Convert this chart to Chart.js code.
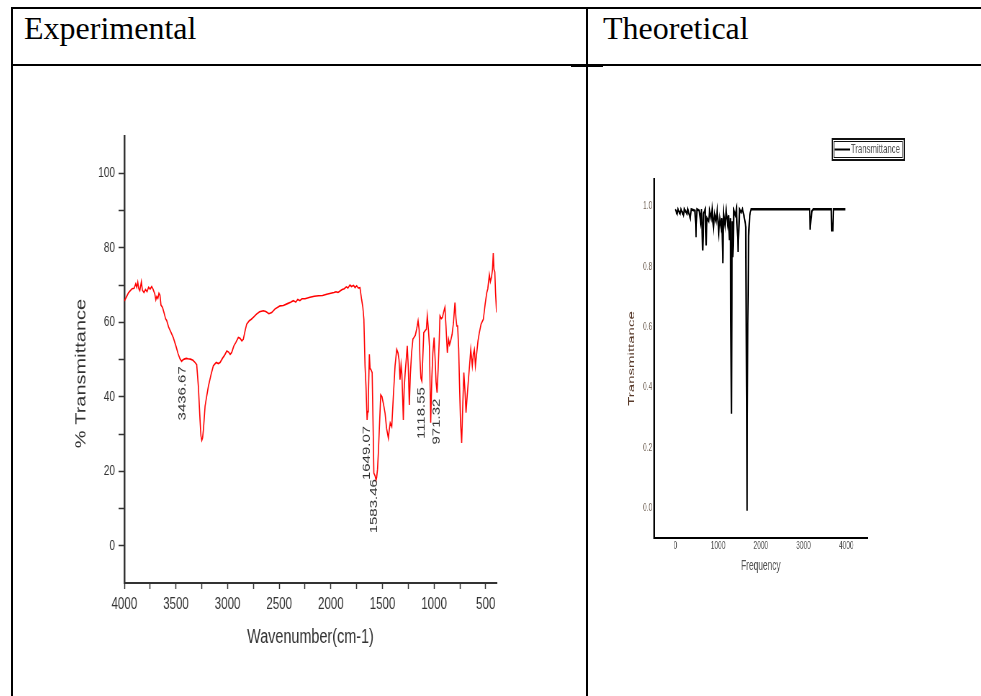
<!DOCTYPE html>
<html>
<head>
<meta charset="utf-8">
<title>FT-IR spectra</title>
<script src="https://cdn.jsdelivr.net/npm/chart.js@4.4.1/dist/chart.umd.min.js"></script>
<style>
  html, body { margin: 0; padding: 0; background: #fff; }
  body { width: 981px; height: 696px; position: relative; overflow: hidden; }
  .rule { position: absolute; background: #000; }
  .head { position: absolute; font-family: 'Liberation Serif', 'Times New Roman', serif; font-size: 32px; line-height: 30px; color: #000; }
  .plot { position: absolute; transform-origin: 0 0; }
  .plot canvas { display: block; }
</style>
</head>
<body>
<!-- table frame -->
<div class="rule" style="left:11px;top:7px;width:970px;height:2px"></div>
<div class="rule" style="left:11px;top:7px;width:2px;height:689px"></div>
<div class="rule" style="left:586px;top:7px;width:2px;height:689px"></div>
<div class="rule" style="left:11px;top:64px;width:970px;height:2px"></div>
<div class="rule" style="left:571px;top:64px;width:32px;height:3px"></div>

<div class="head" style="left:24px;top:13px">Experimental</div>
<div class="head" style="left:603px;top:13px">Theoretical</div>

<div class="plot" style="left:30px;top:110px;transform:scaleX(0.72)">
  <canvas id="expChart" width="694" height="580"></canvas>
</div>
<div class="plot" style="left:600px;top:120px;transform:scaleX(0.6)">
  <canvas id="calcChart" width="600" height="480"></canvas>
</div>

<script>
// measured spectrum: wavenumber (cm-1) and % transmittance
const expWavenumbers = [
  4000, 3980, 3960, 3944, 3925, 3905, 3890, 3880, 3870, 3860, 3850, 3835, 3825, 3810, 3795, 3780,
  3765, 3750, 3735, 3722, 3705, 3695, 3686, 3675, 3665, 3655, 3645, 3630, 3615, 3600, 3590, 3570,
  3550, 3525, 3500, 3480, 3461, 3445, 3436.67, 3420, 3400, 3383, 3360, 3335, 3315, 3299, 3283, 3267,
  3258, 3250, 3242, 3234, 3218, 3200, 3186, 3160, 3138, 3110, 3090, 3073, 3050, 3030, 3008, 2990,
  2975, 2960, 2940, 2920, 2896, 2880, 2862, 2848, 2830, 2815, 2790, 2770, 2751, 2720, 2690, 2654,
  2630, 2600, 2573, 2540, 2510, 2492, 2460, 2420, 2390, 2363, 2340, 2320, 2300, 2280, 2250, 2202,
  2160, 2120, 2080, 2040, 2000, 1970, 1950, 1930, 1911, 1890, 1870, 1850, 1835, 1815, 1800, 1780,
  1765, 1750, 1735, 1718, 1702, 1690, 1680, 1669, 1660, 1649.07, 1643, 1637, 1627, 1620, 1614, 1600,
  1589, 1583.46, 1572, 1562, 1556, 1548, 1540, 1528, 1517, 1505, 1490, 1475, 1460, 1443, 1435, 1425,
  1410, 1395, 1378, 1362, 1350, 1340, 1330, 1320, 1312, 1298, 1290, 1280, 1270, 1260, 1250, 1240,
  1230, 1218, 1205, 1195, 1182, 1169, 1155, 1145, 1137, 1128, 1118.55, 1110, 1100, 1085, 1075, 1066,
  1055, 1045, 1033, 1022, 1012, 1000, 990, 981, 971.32, 960, 950, 943, 930, 920, 905, 895,
  885, 872, 860, 850, 840, 826, 812, 798, 788, 780, 772, 762, 755, 744, 733, 722,
  712, 700, 691, 680, 670, 655, 645, 630, 620, 610, 600, 590, 575, 562, 545, 523,
  505, 490, 480, 465, 455, 445, 435, 427, 420, 412, 405, 395
];
const expTransmittance = [
  65.7, 66.8, 67.9, 68.4, 69.0, 69.1, 70.3, 69.4, 70.8, 69.0, 68.5, 70.9, 68.6, 68.0, 68.8, 68.2,
  69.4, 68.9, 69.6, 68.9, 67.6, 66.0, 66.9, 66.4, 67.8, 67.3, 64.6, 64.0, 62.5, 60.9, 60.5, 58.6,
  57.4, 55.8, 53.6, 51.6, 50.2, 49.5, 49.8, 50.1, 50.3, 50.2, 50.1, 49.8, 49.2, 48.6, 42.8, 33.8,
  29.5, 28.3, 29.0, 31.2, 37.5, 40.5, 42.8, 46.0, 48.3, 49.2, 48.9, 49.2, 50.3, 51.1, 52.3, 52.0,
  51.4, 51.9, 53.6, 54.6, 55.9, 55.7, 55.0, 55.4, 57.8, 59.5, 60.4, 60.8, 61.3, 62.2, 62.8, 63.1,
  62.9, 62.3, 62.6, 63.6, 64.1, 64.4, 64.5, 65.0, 65.4, 65.8, 65.4, 66.1, 65.8, 66.3, 66.3, 66.7,
  67.0, 67.1, 67.2, 67.5, 67.8, 68.0, 68.2, 68.0, 68.4, 68.8, 69.0, 69.5, 69.2, 70.0, 69.6, 69.9,
  69.3, 69.8, 69.2, 69.3, 66.1, 64.0, 60.8, 48.3, 43.0, 33.8, 36.0, 39.2, 51.4, 47.5, 47.4, 46.5,
  29.4, 19.5, 18.8, 17.6, 18.4, 20.5, 24.9, 33.0, 40.5, 40.0, 38.0, 35.6, 31.5, 28.9, 31.0, 33.0,
  32.0, 40.0, 48.3, 52.7, 51.8, 50.0, 44.6, 48.6, 46.0, 33.8, 42.0, 46.5, 50.0, 53.7, 48.0, 37.8,
  46.0, 51.8, 55.5, 55.9, 56.5, 58.2, 60.4, 58.0, 50.0, 45.0, 44.2, 50.0, 57.2, 57.8, 58.1, 61.7,
  58.0, 53.6, 33.0, 45.0, 51.8, 55.9, 50.0, 44.0, 41.1, 48.0, 55.4, 61.7, 61.0, 61.3, 63.0, 64.0,
  59.0, 51.8, 55.4, 54.0, 55.0, 56.7, 60.0, 65.3, 61.0, 59.0, 59.0, 53.0, 44.6, 33.0, 27.6, 38.0,
  46.5, 41.0, 35.7, 40.0, 43.7, 49.0, 52.7, 48.3, 51.5, 52.7, 48.3, 51.0, 55.0, 57.2, 59.5, 60.8,
  65.0, 67.9, 69.0, 72.8, 70.9, 72.0, 74.0, 78.6, 74.2, 73.5, 68.0, 62.6
];

// bands annotated on the measured spectrum
const bandPositions = [3436.67, 1649.07, 1583.46, 1118.55, 971.32];

const expXTicks = [4000, 3750, 3500, 3250, 3000, 2750, 2500, 2250, 2000, 1750, 1500, 1250, 1000, 750, 500];
const expYTicks = [0, 10, 20, 30, 40, 50, 60, 70, 80, 90, 100];

// calculated spectrum: frequency and transmittance
const calcFrequencies = [
  0, 40, 60, 110, 130, 190, 210, 270, 290, 350, 370, 460, 485, 505, 560, 590,
  610, 641, 660, 700, 719, 740, 781, 800, 836, 860, 891, 920, 953, 980, 1016, 1040,
  1070, 1090, 1109, 1130, 1164, 1190, 1227, 1245, 1266, 1290, 1312, 1330, 1344, 1370, 1406, 1430,
  1469, 1500, 1539, 1570, 1617, 1650, 1665, 1680, 1695, 1715, 1740, 1773, 3140, 3156, 3175, 3200,
  3230, 3650, 3660, 3688, 3700, 3980
];
const calcTransmittance = [
  0.99, 0.975, 0.99, 0.975, 0.99, 0.97, 0.99, 0.975, 0.99, 0.96, 0.99, 0.985, 0.897, 0.99, 0.985, 0.95,
  0.99, 0.853, 0.975, 0.99, 0.870, 0.96, 0.95, 0.985, 0.96, 0.99, 0.93, 0.975, 0.95, 0.985, 0.914, 0.96,
  0.93, 0.96, 0.811, 0.975, 0.935, 0.985, 0.94, 0.97, 0.887, 0.96, 0.312, 0.95, 0.831, 0.985, 0.97, 0.99,
  0.848, 0.99, 0.98, 0.99, 0.96, 0.93, 0.40, -0.01, 0.61, 0.90, 0.97, 0.99, 0.99, 0.922, 0.96, 0.985,
  0.99, 0.99, 0.92, 0.92, 0.99, 0.99
];

const calcXTicks = [0, 1000, 2000, 3000, 4000];
const calcYTicks = [0, 0.2, 0.4, 0.6, 0.8, 1.0];

const SANS = "'Liberation Sans', Arial, sans-serif";

// rotated wavenumber labels under the marked bands
const bandLabels = {
  id: 'bandLabels',
  afterDatasetsDraw(chart) {
    const { ctx, scales: { x, y } } = chart;
    ctx.save();
    ctx.font = '15px ' + SANS;
    ctx.fillStyle = '#333';
    ctx.textAlign = 'right';
    ctx.textBaseline = 'middle';
    bandPositions.forEach(wn => {
      const i = expWavenumbers.indexOf(wn);
      ctx.save();
      ctx.translate(x.getPixelForValue(wn), y.getPixelForValue(expTransmittance[i]) + 6);
      ctx.rotate(-Math.PI / 2);
      ctx.fillText(wn.toFixed(2), 0, 0);
      ctx.restore();
    });
    ctx.restore();
  }
};

// vertical axis title, sits a bit below the middle of the axis
const sideTitle = {
  id: 'sideTitle',
  afterDraw(chart, args, opts) {
    const { ctx, chartArea } = chart;
    ctx.save();
    ctx.translate(chartArea.left - opts.gap, (chartArea.top + chartArea.bottom) / 2 + opts.shift);
    ctx.rotate(-Math.PI / 2);
    ctx.font = opts.font;
    ctx.fillStyle = opts.color;
    ctx.textAlign = 'center';
    ctx.textBaseline = 'middle';
    ctx.fillText(opts.text, 0, 0);
    ctx.restore();
  }
};

// framed legend in the top right corner
const boxedLegend = {
  id: 'boxedLegend',
  afterDraw(chart) {
    const { ctx } = chart;
    const ds = chart.data.datasets[0];
    const left = chart.width - 213, top = 19, w = 120, h = 21;
    ctx.save();
    ctx.strokeStyle = '#111';
    ctx.lineWidth = 2;
    ctx.strokeRect(left, top, w, h);
    ctx.lineWidth = 1;
    ctx.strokeRect(left + 3, top + 2.5, w - 6, h - 5);
    ctx.strokeStyle = ds.borderColor;
    ctx.lineWidth = 2;
    ctx.beginPath();
    ctx.moveTo(left + 4, top + h / 2);
    ctx.lineTo(left + 30, top + h / 2);
    ctx.stroke();
    ctx.font = '13px ' + SANS;
    ctx.fillStyle = '#555';
    ctx.textBaseline = 'middle';
    ctx.fillText(ds.label, left + 31, top + h / 2);
    ctx.restore();
  }
};

new Chart(document.getElementById('expChart'), {
  type: 'line',
  data: {
    datasets: [{
      label: '% Transmittance',
      data: expWavenumbers.map((wn, i) => ({ x: wn, y: expTransmittance[i] })),
      borderColor: '#ff0000',
      borderWidth: 1.6,
      pointRadius: 0,
      tension: 0,
      fill: false
    }]
  },
  options: {
    responsive: false,
    devicePixelRatio: 1,
    animation: false,
    events: [],
    layout: { padding: { left: 0, top: 26, right: 46, bottom: 41 } },
    scales: {
      x: {
        type: 'linear',
        reverse: true,
        min: 395,
        max: 4000,
        afterBuildTicks: axis => { axis.ticks = expXTicks.map(v => ({ value: v })); },
        afterFit: axis => { axis.height = 66; },
        grid: { drawOnChartArea: false, drawTicks: true, tickLength: 6, color: '#333', tickWidth: 1.5 },
        border: { display: true, color: '#333', width: 2 },
        ticks: {
          autoSkip: false,
          maxRotation: 0,
          padding: 6,
          color: '#333',
          font: { family: SANS, size: 16 },
          callback: v => (v % 500 === 0 ? String(v) : '')
        },
        title: {
          display: true,
          text: 'Wavenumber(cm-1)',
          color: '#333',
          padding: 0,
          font: { family: SANS, size: 20 }
        }
      },
      y: {
        min: -10,
        max: 110,
        afterBuildTicks: axis => { axis.ticks = expYTicks.map(v => ({ value: v })); },
        afterFit: axis => { axis.width = 131; },
        grid: { drawOnChartArea: false, drawTicks: true, tickLength: 8, color: '#333', tickWidth: 1.5 },
        border: { display: true, color: '#333', width: 2.5 },
        ticks: {
          autoSkip: false,
          padding: 5,
          color: '#333',
          font: { family: SANS, size: 14 },
          callback: v => (v % 20 === 0 ? String(v) : '')
        }
      }
    },
    plugins: {
      legend: { display: false },
      tooltip: { enabled: false },
      sideTitle: { text: '% Transmittance', gap: 60, shift: 14, font: '20px ' + SANS, color: '#333' }
    }
  },
  plugins: [bandLabels, sideTitle]
});

new Chart(document.getElementById('calcChart'), {
  type: 'line',
  data: {
    datasets: [{
      label: 'Transmittance',
      data: calcFrequencies.map((f, i) => ({ x: f, y: calcTransmittance[i] })),
      borderColor: '#000',
      borderWidth: 2.5,
      pointRadius: 0,
      tension: 0,
      fill: false
    }]
  },
  options: {
    responsive: false,
    devicePixelRatio: 1,
    animation: false,
    events: [],
    layout: { padding: { left: 0, top: 59, right: 154, bottom: 25 } },
    scales: {
      x: {
        type: 'linear',
        min: -500,
        max: 4500,
        afterBuildTicks: axis => { axis.ticks = calcXTicks.map(v => ({ value: v })); },
        afterFit: axis => { axis.height = 37; },
        grid: { display: false, drawTicks: false },
        border: { display: true, color: '#000', width: 2 },
        ticks: {
          autoSkip: false,
          maxRotation: 0,
          padding: 1,
          color: '#555',
          font: { family: SANS, size: 11 },
          callback: v => String(v)
        },
        title: { display: true, text: 'Frequency', color: '#555', padding: 0, font: { family: SANS, size: 14 } }
      },
      y: {
        min: -0.1,
        max: 1.09,
        afterBuildTicks: axis => { axis.ticks = calcYTicks.map(v => ({ value: v })); },
        afterFit: axis => { axis.width = 90; },
        grid: { display: false, drawTicks: false },
        border: { display: true, color: '#000', width: 3 },
        ticks: {
          autoSkip: false,
          padding: 3,
          color: '#7a6c60',
          font: { family: SANS, size: 11 },
          callback: v => v.toFixed(1)
        },
        title: {
          display: true,
          text: 'Transmittance',
          color: '#5a3c2c',
          padding: { top: 44, bottom: 0 },
          font: { family: SANS, size: 15 }
        }
      }
    },
    plugins: {
      legend: { display: false },
      tooltip: { enabled: false }
    }
  },
  plugins: [boxedLegend]
});
</script>
</body>
</html>
